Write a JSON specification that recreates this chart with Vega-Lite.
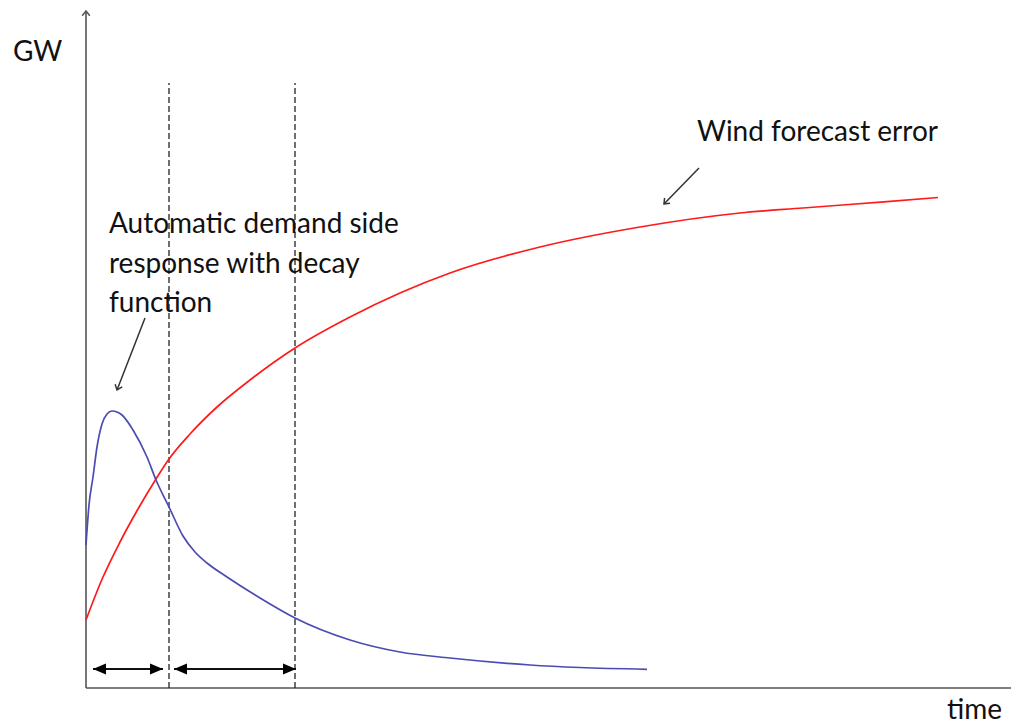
{
  "$schema": "https://vega.github.io/schema/vega-lite/v6.json",
  "width": 1013,
  "height": 726,
  "autosize": "none",
  "padding": 0,
  "background": "white",
  "config": {"view": {"stroke": null}},
  "datasets": {
    "curves": [
      {"series": "Wind forecast error", "t": 0, "gw": 68},
      {"series": "Wind forecast error", "t": 15.7, "gw": 108},
      {"series": "Wind forecast error", "t": 34, "gw": 146},
      {"series": "Wind forecast error", "t": 52, "gw": 179},
      {"series": "Wind forecast error", "t": 70, "gw": 209},
      {"series": "Wind forecast error", "t": 83, "gw": 229},
      {"series": "Wind forecast error", "t": 104, "gw": 254},
      {"series": "Wind forecast error", "t": 131, "gw": 281},
      {"series": "Wind forecast error", "t": 164, "gw": 308},
      {"series": "Wind forecast error", "t": 209, "gw": 340},
      {"series": "Wind forecast error", "t": 264, "gw": 371},
      {"series": "Wind forecast error", "t": 314, "gw": 395},
      {"series": "Wind forecast error", "t": 364, "gw": 415},
      {"series": "Wind forecast error", "t": 454, "gw": 441},
      {"series": "Wind forecast error", "t": 554, "gw": 461},
      {"series": "Wind forecast error", "t": 654, "gw": 475},
      {"series": "Wind forecast error", "t": 717, "gw": 480},
      {"series": "Wind forecast error", "t": 801, "gw": 486.4},
      {"series": "Wind forecast error", "t": 852, "gw": 490.5},
      {"series": "Demand side response", "t": 0, "gw": 143},
      {"series": "Demand side response", "t": 3, "gw": 183},
      {"series": "Demand side response", "t": 7, "gw": 211},
      {"series": "Demand side response", "t": 11, "gw": 241},
      {"series": "Demand side response", "t": 16, "gw": 264},
      {"series": "Demand side response", "t": 21, "gw": 274},
      {"series": "Demand side response", "t": 26, "gw": 277},
      {"series": "Demand side response", "t": 31, "gw": 276},
      {"series": "Demand side response", "t": 36, "gw": 273},
      {"series": "Demand side response", "t": 47, "gw": 258},
      {"series": "Demand side response", "t": 61, "gw": 231},
      {"series": "Demand side response", "t": 70, "gw": 208},
      {"series": "Demand side response", "t": 83, "gw": 181},
      {"series": "Demand side response", "t": 97, "gw": 152},
      {"series": "Demand side response", "t": 109, "gw": 136},
      {"series": "Demand side response", "t": 121, "gw": 125},
      {"series": "Demand side response", "t": 141, "gw": 111},
      {"series": "Demand side response", "t": 174, "gw": 90},
      {"series": "Demand side response", "t": 209, "gw": 70},
      {"series": "Demand side response", "t": 264, "gw": 48},
      {"series": "Demand side response", "t": 314, "gw": 36},
      {"series": "Demand side response", "t": 364, "gw": 30},
      {"series": "Demand side response", "t": 444, "gw": 23},
      {"series": "Demand side response", "t": 494, "gw": 20.5},
      {"series": "Demand side response", "t": 561, "gw": 18.7}
    ],
    "dashed": [
      {"t": 83, "gw": 0, "gw2": 605},
      {"t": 209, "gw": 0, "gw2": 605}
    ],
    "spans": [
      {"t": 7, "t2": 77, "gw": 19},
      {"t": 88, "t2": 210, "gw": 19}
    ],
    "pointers": [
      {"name": "wind", "t": 613, "gw": 520, "t2": 578, "gw2": 484},
      {"name": "dsr", "t": 59, "gw": 370, "t2": 31, "gw2": 298}
    ],
    "labels": [
      {"label": "GW", "t": -73, "gw": 627},
      {"label": "time", "t": 861, "gw": -31},
      {"label": "Wind forecast error", "t": 611, "gw": 547},
      {"label": "Automatic demand side", "t": 23, "gw": 455},
      {"label": "response with decay", "t": 23, "gw": 415},
      {"label": "function", "t": 23, "gw": 376}
    ]
  },
  "encoding": {
    "x": {"field": "t", "type": "quantitative", "scale": {"domain": [-86, 927], "nice": false, "zero": false}, "axis": null},
    "y": {"field": "gw", "type": "quantitative", "scale": {"domain": [-38, 688], "nice": false, "zero": false}, "axis": null}
  },
  "layer": [
    {
      "data": {"values": [{"t": 0, "gw": 0, "gw2": 677}]},
      "mark": {"type": "rule", "color": "#555", "strokeWidth": 1.6},
      "encoding": {"y2": {"field": "gw2"}}
    },
    {
      "data": {"values": [{"t": 0, "t2": 925, "gw": 0}]},
      "mark": {"type": "rule", "color": "#555", "strokeWidth": 1.6},
      "encoding": {"x2": {"field": "t2"}}
    },
    {
      "data": {"values": [{"t": 0, "gw": 677}]},
      "mark": {"type": "point", "shape": "M-0.8,1L0,0L0.8,1", "size": 90, "filled": false, "color": "#555", "strokeWidth": 1.5, "opacity": 1, "angle": 0}
    },
    {
      "data": {"name": "dashed"},
      "mark": {"type": "rule", "color": "#222", "strokeWidth": 1.3, "strokeDash": [6, 3]},
      "encoding": {"y2": {"field": "gw2"}}
    },
    {
      "data": {"name": "spans"},
      "mark": {"type": "rule", "color": "#111", "strokeWidth": 2},
      "encoding": {"x2": {"field": "t2"}}
    },
    {
      "data": {"name": "spans"},
      "mark": {"type": "point", "shape": "M0,0L2,-0.85L2,0.85Z", "size": 169, "filled": true, "color": "#000", "opacity": 1, "strokeWidth": 0}
    },
    {
      "data": {"name": "spans"},
      "mark": {"type": "point", "shape": "M0,0L-2,-0.85L-2,0.85Z", "size": 169, "filled": true, "color": "#000", "opacity": 1, "strokeWidth": 0},
      "encoding": {"x": {"field": "t2", "type": "quantitative"}}
    },
    {
      "data": {"name": "curves"},
      "mark": {"type": "line", "interpolate": "monotone", "strokeWidth": 1.7},
      "encoding": {
        "color": {"field": "series", "type": "nominal", "scale": {"domain": ["Wind forecast error", "Demand side response"], "range": ["#ff1a1a", "#4b4bb4"]}, "legend": null}
      }
    },
    {
      "data": {"name": "pointers"},
      "mark": {"type": "rule", "color": "#333", "strokeWidth": 1.5},
      "encoding": {"x2": {"field": "t2"}, "y2": {"field": "gw2"}}
    },
    {
      "data": {"name": "pointers"},
      "transform": [{"filter": "datum.name === 'wind'"}],
      "mark": {"type": "point", "shape": "M-0.8,1L0,0L0.8,1", "size": 90, "filled": false, "color": "#333", "strokeWidth": 1.5, "opacity": 1, "angle": 224},
      "encoding": {"x": {"field": "t2", "type": "quantitative"}, "y": {"field": "gw2", "type": "quantitative"}}
    },
    {
      "data": {"name": "pointers"},
      "transform": [{"filter": "datum.name === 'dsr'"}],
      "mark": {"type": "point", "shape": "M-0.8,1L0,0L0.8,1", "size": 90, "filled": false, "color": "#333", "strokeWidth": 1.5, "opacity": 1, "angle": 201},
      "encoding": {"x": {"field": "t2", "type": "quantitative"}, "y": {"field": "gw2", "type": "quantitative"}}
    },
    {
      "data": {"name": "labels"},
      "mark": {"type": "text", "font": "Lato", "fontSize": 28, "color": "#111", "align": "left", "baseline": "alphabetic"},
      "encoding": {"text": {"field": "label"}}
    }
  ]
}
